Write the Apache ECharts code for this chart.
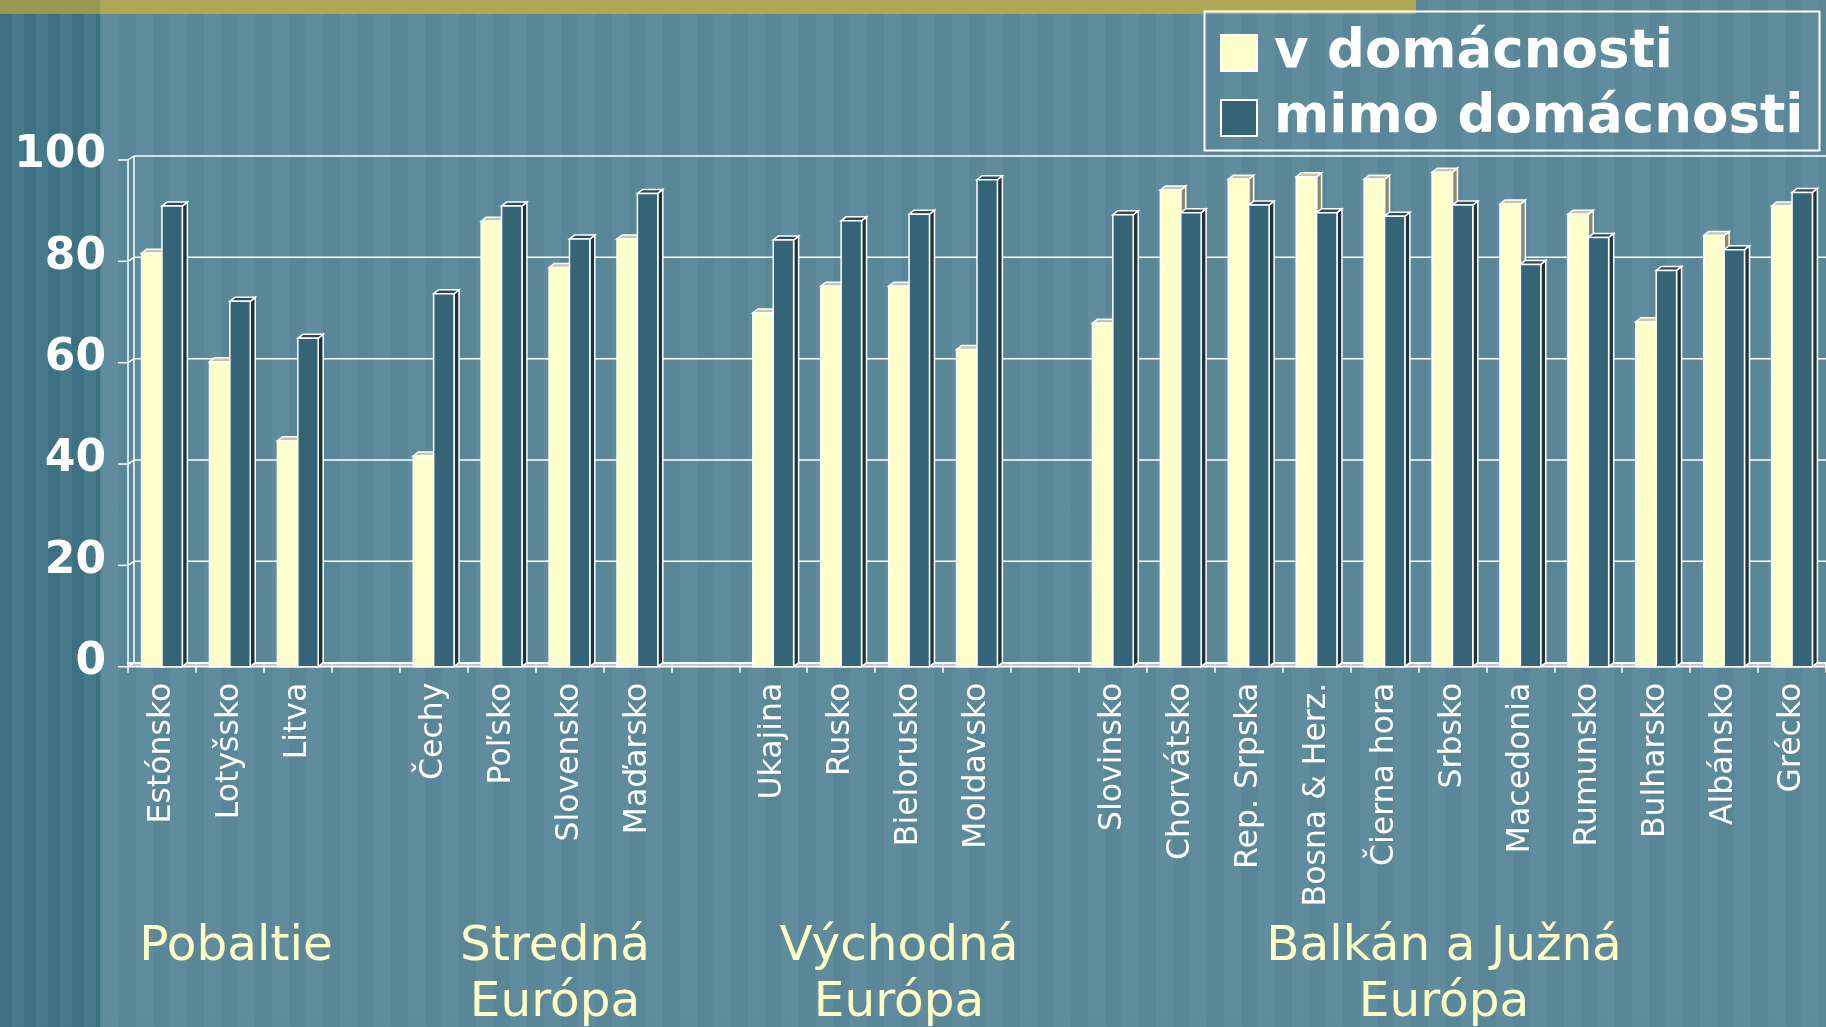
<!DOCTYPE html>
<html>
<head>
<meta charset="utf-8">
<script src="https://cdn.jsdelivr.net/npm/echarts@6.0.0/dist/echarts.min.js"></script>
<style>
  html, body { margin: 0; padding: 0; }
  body {
    width: 1826px; height: 1027px; overflow: hidden; position: relative;
    background-color: #5c8a9b;
    background-image: repeating-linear-gradient(90deg, rgba(255,255,255,0.025) 0 17px, rgba(0,0,0,0.025) 17px 34px);
  }
  .strip {
    position: absolute; left: 0; top: 0; width: 100px; height: 1027px;
    background-color: #3f7587;
    background-image: repeating-linear-gradient(90deg, rgba(0,0,0,0.04) 0 12px, rgba(255,255,255,0.03) 12px 24px);
  }
  .band { position: absolute; left: 0; top: 0; width: 1416px; height: 14px; background: #b0a757; }
  .band .dark { position: absolute; left: 0; top: 0; width: 100px; height: 14px; background: #9d984f; }
  #chart { position: absolute; left: 0; top: 0; width: 1826px; height: 1027px; }
</style>
</head>
<body>
<div class="strip"></div>
<div class="band"><div class="dark"></div></div>
<div id="chart"></div>
<script>
// categories, blank slots separate the regions
const categories = [
  'Estónsko', 'Lotyšsko', 'Litva', ' ',
  'Čechy', 'Poľsko', 'Slovensko', 'Maďarsko', '  ',
  'Ukajina', 'Rusko', 'Bielorusko', 'Moldavsko', '   ',
  'Slovinsko', 'Chorvátsko', 'Rep. Srpska', 'Bosna & Herz.', 'Čierna hora', 'Srbsko',
  'Macedonia', 'Rumunsko', 'Bulharsko', 'Albánsko', 'Grécko'
]
const inHome = [
  81.6, 60.2, 44.6, null,
  41.6, 87.9, 78.8, 84.4, null,
  69.8, 75.1, 75.1, 62.6, null,
  67.8, 94.1, 96.2, 96.7, 96.2, 97.6, 91.3, 89.3, 68.1, 85.1, 90.9
]
const outHome = [
  90.9, 72.1, 64.8, null,
  73.6, 90.9, 84.4, 93.4, null,
  84.2, 88.0, 89.3, 96.1, null,
  89.2, 89.6, 91.1, 89.6, 88.9, 91.1, 79.4, 84.7, 78.2, 82.3, 93.6
]
const yTicks = [0, 20, 40, 60, 80, 100]
const seriesNames = ['v domácnosti', 'mimo domácnosti']
const groupLabels = ['Pobaltie', 'Stredná\nEurópa', 'Východná\nEurópa', 'Balkán a Južná\nEurópa']

const WX = 6, DY = 4 // wall depth
const BX = 5, BY = 4 // bar depth

const palette = [
  { front: '#ffffcc', top: '#c9c7a3', side: '#8b8967' },
  { front: '#356476', top: '#274b58', side: '#1e343d' }
]

const chart = echarts.init(document.getElementById('chart'), null, { renderer: 'canvas' })

function renderFrame(params, api) {
  const slot = api.size([1, 0])[0]
  const left = api.coord([0, 0])[0] - slot / 2
  const right = left + slot * categories.length
  const y0 = api.coord([0, 0])[1]
  const children = []
  const line = (x1, y1, x2, y2) => children.push({
    type: 'line', shape: { x1, y1, x2, y2 }, style: { stroke: '#fff', lineWidth: 1.5 }
  })
  children.push({
    type: 'polygon',
    shape: { points: [[left, y0 + DY], [right, y0 + DY], [right + WX, y0], [left + WX, y0]] },
    style: { fill: 'rgba(215,222,224,0.75)', stroke: '#fff', lineWidth: 1.5 }
  })
  yTicks.forEach(t => {
    const y = api.coord([0, t])[1]
    line(left + WX, y, right + WX, y)
    line(left - 10, y + DY, left, y + DY)
    line(left, y + DY, left + WX, y)
  })
  const yTop = api.coord([0, yTicks[yTicks.length - 1]])[1]
  line(left, y0 + DY, left, yTop + DY)
  line(left + WX, y0, left + WX, yTop)
  return { type: 'group', children }
}

function makeBarRenderer(s) {
  const c = palette[s]
  return function (params, api) {
    const idx = api.value(0), v = api.value(1)
    const slot = api.size([1, 0])[0]
    const bw = slot * 0.3
    const base = api.coord([idx, 0])
    const top = api.coord([idx, v])
    const x0 = base[0] + (s === 0 ? -bw : 0)
    const x1 = x0 + bw
    const yb = base[1] + DY, yt = top[1] + DY
    const st = { stroke: '#fff', lineWidth: 1.5, lineJoin: 'miter' }
    return {
      type: 'group',
      children: [
        { type: 'polygon', shape: { points: [[x1, yt], [x1 + BX, yt - BY], [x1 + BX, yb - BY], [x1, yb]] },
          style: Object.assign({ fill: c.side }, st) },
        { type: 'polygon', shape: { points: [[x0, yt], [x1, yt], [x1 + BX, yt - BY], [x0 + BX, yt - BY]] },
          style: Object.assign({ fill: c.top }, st) },
        { type: 'rect', shape: { x: x0, y: yt, width: bw, height: yb - yt },
          style: Object.assign({ fill: c.front }, st) }
      ]
    }
  }
}

function pairs(arr) {
  return arr.map((v, i) => [i, v]).filter(d => d[1] != null)
}

const groupPos = [[236, 919], [555, 919], [899, 919], [1444, 919]]

chart.setOption({
  animation: false,
  backgroundColor: 'transparent',
  grid: { left: 128, top: 156, width: 1698, height: 506.7 },
  legend: {
    orient: 'vertical',
    left: 1220,
    top: 25,
    padding: 0,
    itemGap: 9,
    itemWidth: 36,
    itemHeight: 36,
    icon: 'rect',
    data: seriesNames.map((n, i) => ({
      name: n,
      itemStyle: { color: palette[i].front, borderColor: '#fff', borderWidth: 2 }
    })),
    textStyle: {
      color: '#fff', fontFamily: 'DejaVu Sans', fontWeight: 'bold', fontSize: 53,
      lineHeight: 56, padding: [0, 0, 0, 12]
    }
  },
  xAxis: {
    type: 'category',
    data: categories,
    offset: DY,
    axisLine: { show: true, lineStyle: { color: '#fff', width: 2 } },
    axisTick: { show: true, length: 10, lineStyle: { color: '#fff', width: 1.5 } },
    axisLabel: {
      rotate: 90, interval: 0, margin: 16,
      color: '#fff', fontFamily: 'DejaVu Sans', fontSize: 31.5
    },
    splitLine: { show: false }
  },
  yAxis: {
    type: 'value',
    min: 0, max: 100, interval: 20,
    axisLine: { show: false },
    axisTick: { show: false },
    splitLine: { show: false },
    axisLabel: {
      margin: 22, padding: [8, 0, 0, 0],
      color: '#fff', fontFamily: 'DejaVu Sans', fontWeight: 'bold', fontSize: 44
    }
  },
  series: [
    { type: 'custom', name: 'frame', data: [[0, 0]], renderItem: renderFrame, silent: true, z: 1 },
    { type: 'custom', name: seriesNames[0], data: pairs(inHome), renderItem: makeBarRenderer(0),
      itemStyle: { color: palette[0].front }, z: 2 },
    { type: 'custom', name: seriesNames[1], data: pairs(outHome), renderItem: makeBarRenderer(1),
      itemStyle: { color: palette[1].front }, z: 3 }
  ],
  graphic: [
    { type: 'rect', left: 1202, top: 9, shape: { width: 615, height: 139 },
      style: { fill: 'none', stroke: '#fff', lineWidth: 2 }, z: 10 }
  ].concat(groupLabels.map((t, i) => ({
    type: 'text',
    x: groupPos[i][0], y: groupPos[i][1],
    style: {
      text: t, fill: '#ffffc4', font: '48.5px "DejaVu Sans"',
      lineHeight: 56, align: 'center', verticalAlign: 'top'
    }
  })))
})
</script>
</body>
</html>
